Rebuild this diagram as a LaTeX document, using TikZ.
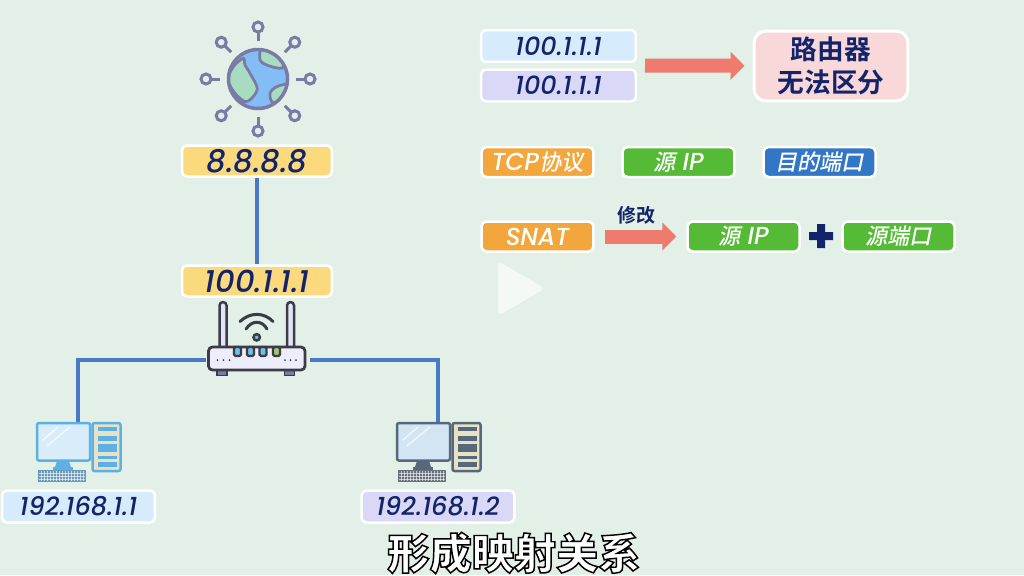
\documentclass[tikz,border=0pt]{standalone}
\usepackage{fontspec}
\usepackage{xcolor}
\usetikzlibrary{arrows.meta}
\setmainfont{Poppins Medium}[ItalicFont={Poppins Medium Italic}]
\newfontfamily\cjkit[AutoFakeSlant=0.2,Scale=0.9]{Noto Sans CJK SC Medium}
\newfontfamily\cjkbf{Noto Sans CJK SC Bold}
\newfontfamily\cjkline[FakeBold=3.5]{Noto Sans CJK SC Black}
\newcommand{\outlined}[1]{\special{pdf:bcolor [1 1 1] [0 0 0]}#1\special{pdf:ecolor}}

\definecolor{bgcol}{HTML}{E3F0E7}
\definecolor{navy}{HTML}{14246B}
\definecolor{yellowbox}{HTML}{FBDA7E}
\definecolor{bluebox}{HTML}{D6EBFB}
\definecolor{purplebox}{HTML}{D9D8F6}
\definecolor{pinkbox}{HTML}{F8D8D8}
\definecolor{orangebox}{HTML}{F2A63C}
\definecolor{greenbox}{HTML}{55BB37}
\definecolor{portbox}{HTML}{3277C5}
\definecolor{redarrow}{HTML}{EE7B6E}
\definecolor{linkcol}{HTML}{4A78C4}
\definecolor{globeline}{HTML}{7A7AA6}
\definecolor{globesea}{HTML}{82BDF5}
\definecolor{globeland}{HTML}{A8DCC0}
\definecolor{routerline}{HTML}{3C3C46}
\definecolor{pcblue}{HTML}{5CB0E4}
\definecolor{pcslate}{HTML}{56687C}
\definecolor{pcbluefill}{HTML}{D8ECFA}
\definecolor{pcslatefill}{HTML}{D3E4F2}
\definecolor{pcband}{HTML}{E8E2C4}
\definecolor{ledblue}{HTML}{6FC0E8}
\definecolor{ledgreen}{HTML}{9CC870}

\tikzset{
  ipbox/.style={draw=white, line width=0.05cm, rounded corners=0.1cm, inner sep=0pt, text=navy},
  bigip/.style={ipbox, fill=yellowbox, minimum width=3cm, minimum height=0.62cm, font=\fontsize{17.5}{17.5}\selectfont\itshape},
  hostip/.style={ipbox, minimum width=3.06cm, minimum height=0.64cm, font=\fontsize{14.5}{14.5}\selectfont\itshape},
  tagbox/.style={ipbox, text=white, minimum width=2.24cm, minimum height=0.6cm, font=\fontsize{14}{14}\selectfont\itshape},
  link/.style={draw=linkcol, line width=0.065cm},
  fatarrow/.style={draw=redarrow, line width=0.28cm, -{Triangle[length=0.28cm,width=0.55cm]}, shorten <=0.16cm, shorten >=0.16cm},
  pics/computer/.style n args={3}{code={
    % monitor
    \draw[draw=#1, fill=#2, line width=0.05cm, rounded corners=0.04cm] (-41,1) rectangle (12,38.5);
    \draw[white, opacity=0.7, line width=0.03cm] (-35,18) -- (-20,5) (-31,24) -- (-8,5);
    \fill[#1] (-21,39) -- (-9,39) -- (-7,45) -- (-23,45) -- cycle;
    \fill[#1] (-25,45) rectangle (-5,47.5);
    % tower
    \draw[draw=#1, fill=#3, line width=0.05cm, rounded corners=0.04cm] (14.5,1) rectangle (42.5,49);
    \foreach \ya/\yb in {4.5/8.5, 14/19, 22/30, 33.5/37, 40/45}
      \fill[#1] (19.5,\ya) rectangle (38.5,\yb);
    % keyboard
    \fill[#1!55!gray] (-40,48) rectangle (7.5,59.7);
    \foreach \x in {-37,-34,...,5}
      \draw[white, opacity=0.6, line width=0.012cm] (\x,49) -- (\x,59);
    \foreach \y in {51,54,57}
      \draw[white, opacity=0.6, line width=0.012cm] (-39,\y) -- (6.5,\y);
  }}
}

\begin{document}
\begin{tikzpicture}[x=0.02cm, y=-0.02cm]
\fill[bgcol] (0,0) rectangle (1024,575);
\useasboundingbox (0,0) rectangle (1024,575);

% globe
\begin{scope}[shift={(258,79)}]
\foreach \a in {0,45,...,315} {
  \draw[globeline, line width=0.06cm] (\a:38) -- (\a:46.5);
  \draw[globeline, line width=0.06cm] (\a:52) circle[radius=5];
}
\fill[globesea] (0,0) circle[radius=29.5];
\begin{scope}
\clip (0,0) circle[radius=29.5];
\draw[globeline, line width=0.055cm, fill=globeland] plot[smooth cycle] coordinates {(-14.7,-20.7) (-24.7,-12.3) (-30,1) (-23,14.3) (-13,22.7) (-6.3,19.3) (-0.7,9.3) (-8,-5.7) (-13,-14)};
\draw[globeline, line width=0.055cm, fill=globeland] plot[smooth cycle] coordinates {(3,-30) (2,-19) (8.7,-14) (24,-11) (31,-24) (12,-32)};
\draw[globeline, line width=0.055cm, fill=globeland] plot[smooth cycle] coordinates {(33,5) (18.7,7.7) (12,14.3) (15.3,23.7) (32,18)};
\end{scope}
\draw[globeline, line width=0.07cm] (0,0) circle[radius=29.5];
\end{scope}

% left side
\node[bigip] (wan) at (257,161) {8.8.8.8};
\node[bigip] (gateway) at (257,281) {100.1.1.1};
\draw[link] (wan) -- (gateway);

\node[inner sep=0pt, minimum width=2.08cm, minimum height=0.4cm] (router) at (258,360) {};
\coordinate (pc a top) at (78,422);
\coordinate (pc b top) at (438,422);
\draw[link] (router.west) -| (pc a top);
\draw[link] (router.east) -| (pc b top);

% router
\draw[routerline, fill=purplebox!70!white, line width=0.05cm, rounded corners=0.07cm] (219.5,346) -- (219.5,302) -- (226.5,302) -- (226.5,346);
\draw[routerline, fill=purplebox!70!white, line width=0.05cm, rounded corners=0.07cm] (287,346) -- (287,302) -- (294,302) -- (294,346);
\fill[globeline, draw=routerline, line width=0.03cm] (217,370) rectangle (227,375.5) (284.5,370) rectangle (294.5,375.5);
\draw[routerline, fill=purplebox!45!white, line width=0.055cm, rounded corners=0.08cm] (208.5,347) rectangle (305,370);
\foreach \x/\c in {234/ledblue, 247/ledblue, 259.5/ledblue, 273/ledgreen}
  \draw[routerline, fill=\c, line width=0.045cm, rounded corners=0.03cm] (\x,347) rectangle ++(7,9);
\foreach \x in {217.5,223.5,229.5,285,290.5,296}
  \fill[routerline] (\x,360) circle[radius=1];
\draw[routerline, line width=0.06cm, line cap=round] (240,321.5) .. controls (250,312) and (264,312) .. (273,321.5);
\draw[routerline, line width=0.06cm, line cap=round] (246,329) .. controls (252,320) and (262,320) .. (267,329);
\draw[routerline, fill=ledblue, line width=0.05cm] (256.7,337.3) circle[radius=3.2];

% computers
\pic at (pc a top) {computer={pcblue}{pcbluefill}{pcband}};
\pic at (pc b top) {computer={pcslate}{pcslatefill}{pcband}};
\node[hostip, fill=bluebox] (host a) at (78.5,506.5) {192.168.1.1};
\node[hostip, fill=purplebox] (host b) at (438,506.5) {192.168.1.2};

% same address
\node[hostip, fill=bluebox, minimum width=3.1cm] (same a) at (558.5,46) {100.1.1.1};
\node[hostip, fill=purplebox, minimum width=3.1cm] (same b) at (558.5,85.5) {100.1.1.1};
\coordinate (same) at (637,65.5);
\node[ipbox, line width=0.06cm, rounded corners=0.24cm, fill=pinkbox, minimum width=3.08cm, minimum height=1.4cm, align=center, font=\fontsize{15.2}{19}\cjkbf] (nat) at (831,66) {路由器\\无法区分};
\draw[fatarrow] (same) -- (nat);

% tuple
\node[tagbox, fill=orangebox] (proto) at (537.5,162) {TCP{\cjkit 协议}};
\node[tagbox, fill=greenbox] (src ip) at (678.5,162) {{\cjkit 源} IP};
\node[tagbox, fill=portbox] (dst port) at (819.5,162) {{\cjkit 目的端口}};

% snat
\node[tagbox, fill=orangebox] (snat) at (537.5,236.5) {SNAT};
\node[tagbox, fill=greenbox] (new ip) at (743.5,236.5) {{\cjkit 源} IP};
\node[tagbox, fill=greenbox] (new port) at (898.5,236.5) {{\cjkit 源端口}};
\draw[fatarrow, shorten <=0.21cm, shorten >=0.2cm] (snat) -- (new ip) node[midway, xshift=-0.08cm, yshift=0.42cm, text=navy, font=\fontsize{10.8}{10.8}\cjkbf] (edit) {修改};

% plus
\fill[navy] (809,232) rectangle (833,240) (817,224) rectangle (825,248);

% play mark
\fill[white, opacity=0.65, rounded corners=0.1cm] (498,261) -- (498,316) -- (545,288.5) -- cycle;

% caption
\node[inner sep=0pt, font=\fontsize{24}{24}\cjkline] (caption) at (514,553) {\outlined{形成映射关系}};
\end{tikzpicture}
\end{document}
